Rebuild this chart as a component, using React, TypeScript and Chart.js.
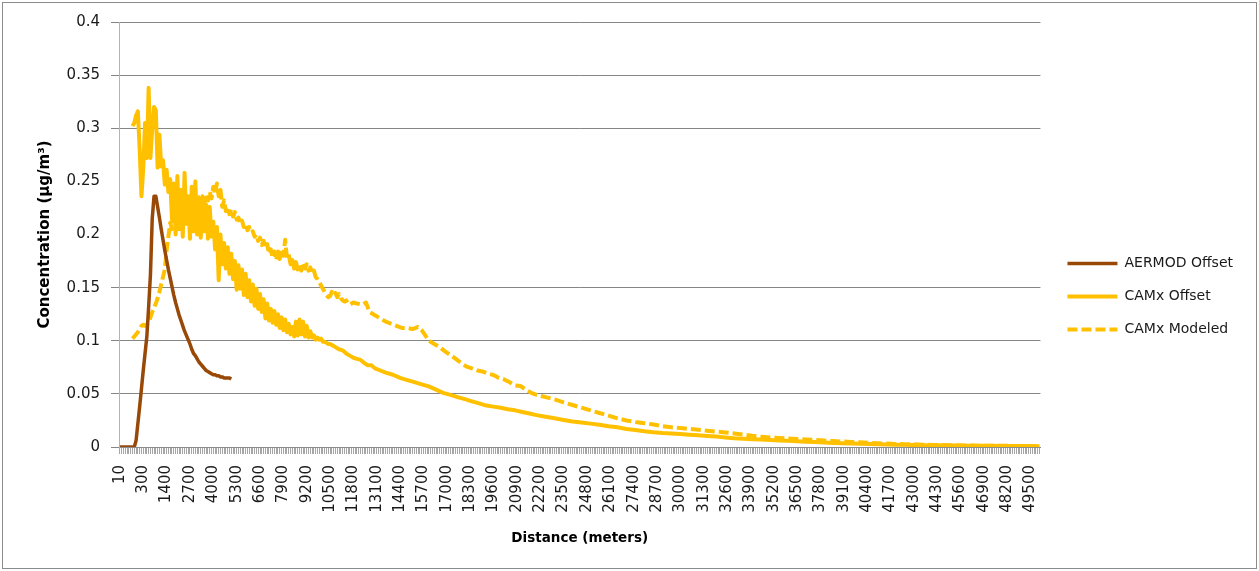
import React, { useEffect, useRef } from 'react';
import { Chart, registerables } from 'chart.js';

Chart.register(...registerables);

// Receptor distances (m): fine spacing close to the source, then every 100 m out to 50 km.
const NEAR_DISTANCES = [10, 20, 30, 40, 50, 60, 70, 80, 90, 100, 150, 200, 250, 300, 350, 400, 450, 500];
const DISTANCES: number[] = [...NEAR_DISTANCES];
for (let d = 600; d <= 50000; d += 100) DISTANCES.push(d);

// Distances that carry a printed label on the category axis.
const TICK_LABELS = [
  10, 300, 1400, 2700, 4000, 5300, 6600, 7900, 9200, 10500, 11800, 13100, 14400, 15700,
  17000, 18300, 19600, 20900, 22200, 23500, 24800, 26100, 27400, 28700, 30000, 31300,
  32600, 33900, 35200, 36500, 37800, 39100, 40400, 41700, 43000, 44300, 45600, 46900,
  48200, 49500,
];

// AERMOD offset, one value per receptor starting at 10 m (runs out to 5 km).
const AERMOD_START = 10;
const AERMOD_OFFSET = [
  0, 0, 0, 0, 0, 0, 0, 0, 0, 0.006, 0.022, 0.038, 0.055, 0.072, 0.088, 0.104, 0.132, 0.162,
  0.215, 0.236, 0.236, 0.226, 0.216, 0.205, 0.195, 0.185, 0.176, 0.167, 0.159, 0.151, 0.143,
  0.136, 0.130, 0.124, 0.119, 0.114, 0.109, 0.105, 0.101, 0.097, 0.092, 0.088, 0.086, 0.083,
  0.080, 0.078, 0.076, 0.074, 0.072, 0.071, 0.070, 0.069, 0.068, 0.068, 0.067, 0.067, 0.066,
  0.066, 0.065, 0.065, 0.065, 0.065, 0.064,
];

// CAMx offset near field, one value per receptor from 80 m to 11 km.
const CAMX_OFFSET_START = 80;
const CAMX_OFFSET_NEAR = [
  0.302, 0.305, 0.312, 0.316, 0.280, 0.236, 0.262, 0.305, 0.272, 0.338, 0.272, 0.300, 0.320,
  0.317, 0.263, 0.294, 0.264, 0.270, 0.247, 0.261, 0.240, 0.252,
  0.214, 0.248, 0.200, 0.255, 0.205, 0.242, 0.198, 0.258, 0.210, 0.236, 0.196, 0.245, 0.203,
  0.250, 0.200, 0.232, 0.197, 0.236, 0.203, 0.228, 0.196, 0.226, 0.198, 0.212, 0.186, 0.207,
  0.157, 0.200, 0.172, 0.192, 0.168, 0.188, 0.163, 0.182, 0.158, 0.175, 0.148, 0.171, 0.149,
  0.167, 0.143, 0.163, 0.141, 0.157, 0.137, 0.153, 0.133, 0.149, 0.130, 0.144, 0.127, 0.139,
  0.121, 0.135, 0.119, 0.130, 0.117, 0.128, 0.115, 0.125, 0.112, 0.122, 0.110, 0.120, 0.108,
  0.116, 0.106, 0.113, 0.104, 0.118, 0.105, 0.120, 0.106, 0.118, 0.104, 0.114, 0.103, 0.109,
  0.103, 0.105, 0.101, 0.103, 0.101, 0.102, 0.099, 0.099, 0.098, 0.097, 0.097, 0.096, 0.095,
  0.094, 0.093, 0.092,
];
// CAMx offset far field, sampled receptors.
const CAMX_OFFSET_FAR_DIST = [
  11200, 11400, 11600, 11800, 12000, 12200, 12400, 12600, 12800, 13000, 13300, 13600,
  14000, 14400, 14800, 15200, 15600, 16000, 16400, 16800, 17200, 17600, 18000, 18400,
  18800, 19200, 19600, 20000, 20400, 20800, 21200, 21600, 22000,
  22500, 23000, 23500, 24000, 24500, 25000, 25500, 26000, 26500, 27000, 27500, 28000,
  28500, 29000, 29500, 30000, 30500, 31000, 31500, 32000, 32500, 33000, 33500, 34000,
  34500, 35000, 35500, 36000, 36500, 37000, 37500, 38000, 38500, 39000, 39500, 40000,
  40500, 41000, 41500, 42000, 42500, 43000, 43500, 44000,
  45000, 46000, 47000, 48000, 49000, 50000,
];
const CAMX_OFFSET_FAR = [
  0.091, 0.088, 0.086, 0.084, 0.083, 0.082, 0.079, 0.077, 0.077, 0.074, 0.072, 0.070,
  0.068, 0.065, 0.063, 0.061, 0.059, 0.057, 0.054, 0.051, 0.049, 0.047, 0.045, 0.043,
  0.041, 0.039, 0.038, 0.037, 0.0355, 0.0345, 0.033, 0.0315, 0.030,
  0.0285, 0.027, 0.0255, 0.024, 0.023, 0.022, 0.021, 0.0195, 0.0185, 0.017, 0.016, 0.0148,
  0.0138, 0.0132, 0.0128, 0.0122, 0.0116, 0.011, 0.0104, 0.0098, 0.009, 0.0083, 0.0078, 0.0074,
  0.007, 0.0066, 0.0062, 0.0058, 0.0054, 0.005, 0.0046, 0.0042, 0.0038, 0.0035, 0.0032, 0.003,
  0.0028, 0.0025, 0.0023, 0.0021, 0.002, 0.0018, 0.0017, 0.0016,
  0.0014, 0.0012, 0.0011, 0.001, 0.0009, 0.0008,
];

// CAMx modeled near field, one value per receptor from 80 m to 11.8 km.
const CAMX_MODELED_START = 80;
const CAMX_MODELED_NEAR = [
  0.102, 0.104, 0.106, 0.108, 0.111, 0.114, 0.115, 0.114, 0.115, 0.117, 0.122, 0.127, 0.131,
  0.135, 0.140, 0.146, 0.153, 0.160, 0.167, 0.185, 0.198, 0.211,
  0.205, 0.216, 0.210, 0.222, 0.214, 0.226, 0.218, 0.229, 0.221, 0.232, 0.224, 0.230, 0.225,
  0.233, 0.226, 0.235, 0.228, 0.236, 0.230, 0.238, 0.232, 0.240, 0.234, 0.245, 0.238, 0.248,
  0.236, 0.242, 0.226, 0.232, 0.222, 0.226, 0.219, 0.224, 0.217, 0.221, 0.214, 0.216, 0.210,
  0.213, 0.207, 0.210, 0.204, 0.207, 0.202, 0.203, 0.198, 0.200, 0.194, 0.197, 0.190, 0.194,
  0.187, 0.191, 0.182, 0.186, 0.178, 0.184, 0.176, 0.184, 0.177, 0.186, 0.180, 0.195, 0.178,
  0.181, 0.172, 0.176, 0.168, 0.174, 0.167, 0.171, 0.166, 0.173, 0.168, 0.172, 0.166, 0.169,
  0.164, 0.166, 0.160, 0.158, 0.155, 0.152, 0.149, 0.146, 0.143, 0.141, 0.142, 0.146, 0.143,
  0.145, 0.141, 0.144, 0.140, 0.138, 0.137, 0.138, 0.135, 0.134, 0.135, 0.136,
];
// CAMx modeled far field, sampled receptors.
const CAMX_MODELED_FAR_DIST = [
  12000, 12300, 12500, 12700, 13000, 13300, 13600, 13900, 14200, 14500, 14800, 15100,
  15400, 15600, 15800, 16000, 16300, 16600, 16900, 17200, 17500, 17800, 18100, 18400,
  18700, 19000, 19300, 19600, 19900, 20200, 20500, 20800, 21100, 21400, 21700, 22000,
  22500, 23000, 23500, 24000, 24500, 25000, 25500, 26000, 26500, 27000, 27500, 28000,
  28500, 29000, 29500, 30000, 30500, 31000, 31500, 32000, 32500, 33000, 33500, 34000,
  34500, 35000, 35500, 36000, 36500, 37000, 37500, 38000, 38500, 39000, 39500, 40000,
  40500, 41000, 41500, 42000, 42500, 43000, 43500, 44000,
  45000, 46000, 47000, 48000, 49000, 50000,
];
const CAMX_MODELED_FAR = [
  0.135, 0.134, 0.136, 0.127, 0.124, 0.121, 0.118, 0.116, 0.114, 0.112, 0.112, 0.111,
  0.113, 0.110, 0.105, 0.100, 0.097, 0.094, 0.090, 0.0866, 0.083, 0.079, 0.0756, 0.074,
  0.072, 0.071, 0.069, 0.0678, 0.065, 0.0635, 0.061, 0.058, 0.0574, 0.054, 0.051, 0.049,
  0.047, 0.0448, 0.042, 0.0395, 0.037, 0.0345, 0.032, 0.0295, 0.027, 0.025, 0.0236, 0.0224,
  0.0212, 0.0197, 0.0186, 0.0178, 0.017, 0.0162, 0.0153, 0.0145, 0.0137, 0.0128, 0.0117, 0.0105,
  0.0097, 0.009, 0.0085, 0.008, 0.0076, 0.0071, 0.0066, 0.0061, 0.0056, 0.0052, 0.0048, 0.0044,
  0.004, 0.0036, 0.0032, 0.0029, 0.0027, 0.0025, 0.0022, 0.002,
  0.0017, 0.0014, 0.0012, 0.0011, 0.001, 0.0009,
];

const FONT = "'DejaVu Sans', sans-serif";
const BROWN = '#984807';
const GOLD = '#FFC000';
const GRID = '#868686';
const DASH = [10, 4];

const tickSet = new Set(TICK_LABELS);

// Consecutive receptors starting at a given distance.
function run(start: number, values: number[]) {
  const first = DISTANCES.indexOf(start);
  return values.map((y, k) => ({ x: DISTANCES[first + k], y }));
}
// Individually listed receptors.
function pairs(dists: number[], values: number[]) {
  return dists.map((x, k) => ({ x, y: values[k] }));
}

// Grid lines at 0.2 and 0.25 are not drawn on this chart.
const yGridColor = (ctx: any) => {
  const v = ctx.tick ? Math.round(ctx.tick.value * 100) : -1;
  return v === 20 || v === 25 ? 'rgba(0,0,0,0)' : GRID;
};

export default function App() {
  const canvasRef = useRef<HTMLCanvasElement>(null);

  useEffect(() => {
    const canvas = canvasRef.current;
    if (!canvas) return;
    const chart = new Chart(canvas, {
      type: 'line',
      data: {
        labels: DISTANCES,
        datasets: [
          {
            label: 'AERMOD Offset',
            data: run(AERMOD_START, AERMOD_OFFSET),
            borderColor: BROWN,
            backgroundColor: BROWN,
            borderWidth: 3.5,
            pointRadius: 0,
            borderJoinStyle: 'round',
            yAxisID: 'y',
          },
          {
            label: 'CAMx Offset',
            data: [...run(CAMX_OFFSET_START, CAMX_OFFSET_NEAR), ...pairs(CAMX_OFFSET_FAR_DIST, CAMX_OFFSET_FAR)],
            borderColor: GOLD,
            backgroundColor: GOLD,
            borderWidth: 4,
            pointRadius: 0,
            borderJoinStyle: 'round',
            yAxisID: 'y',
          },
          {
            label: 'CAMx Modeled',
            data: [...run(CAMX_MODELED_START, CAMX_MODELED_NEAR), ...pairs(CAMX_MODELED_FAR_DIST, CAMX_MODELED_FAR)],
            borderColor: GOLD,
            backgroundColor: GOLD,
            borderWidth: 4,
            borderDash: DASH,
            pointRadius: 0,
            borderJoinStyle: 'round',
            yAxisID: 'y',
          },
        ],
      },
      options: {
        responsive: false,
        animation: false,
        devicePixelRatio: 1,
        events: [],
        layout: { padding: { top: 22, right: 16, bottom: 0, left: 0 } },
        plugins: {
          tooltip: { enabled: false },
          legend: {
            position: 'right',
            labels: {
              usePointStyle: true,
              pointStyle: 'line',
              pointStyleWidth: 50,
              padding: 19,
              color: '#1a1a1a',
              font: { family: FONT, size: 14 },
              // Legend keys use the series' own line width and dash pattern.
              generateLabels: (c: any) => {
                const items = (Chart.defaults as any).plugins.legend.labels.generateLabels(c);
                return items.map((item: any) => {
                  const ds: any = c.data.datasets[item.datasetIndex];
                  return {
                    ...item,
                    strokeStyle: ds.borderColor,
                    lineWidth: ds.borderWidth,
                    lineDash: ds.borderDash || [],
                    lineCap: 'butt',
                  };
                });
              },
            },
          },
        },
        scales: {
          x: {
            type: 'category',
            offset: true,
            grid: {
              display: true,
              drawOnChartArea: false,
              drawTicks: true,
              tickLength: 7,
              color: '#a6a6a6',
              lineWidth: 1,
            },
            border: { display: true, color: '#8c8c8c', width: 1 },
            ticks: {
              autoSkip: false,
              maxRotation: 90,
              minRotation: 90,
              padding: 11,
              color: '#1a1a1a',
              font: { family: FONT, size: 15 },
              callback: (_v: any, i: number) => (tickSet.has(DISTANCES[i]) ? String(DISTANCES[i]) : ''),
            },
            title: {
              display: true,
              text: 'Distance (meters)',
              color: '#000',
              font: { family: FONT, size: 13.5, weight: 'bold' },
              padding: { top: 0, bottom: 24 },
            },
            afterFit: (s: any) => {
              s.height = 124;
            },
          },
          y: {
            type: 'linear',
            min: 0,
            max: 0.4,
            ticks: {
              stepSize: 0.05,
              padding: 11,
              color: '#1a1a1a',
              font: { family: FONT, size: 15 },
              callback: (v: any) => String(Math.round(Number(v) * 100) / 100),
            },
            grid: { color: yGridColor, tickColor: yGridColor, tickLength: 8, drawTicks: true },
            border: { display: true, color: '#b4b4b4' },
            title: {
              display: true,
              text: 'Concentration (µg/m³)',
              color: '#000',
              font: { family: FONT, size: 15, weight: 'bold' },
              padding: { top: 36, bottom: 0 },
            },
            afterFit: (s: any) => {
              s.width = 119;
            },
          },
          // Empty strip that keeps the legend clear of the plot area.
          gap: {
            type: 'linear',
            position: 'right',
            display: true,
            grid: { display: false, drawTicks: false },
            ticks: { display: false },
            border: { display: false },
            afterFit: (s: any) => {
              s.width = 8;
            },
          },
        },
      } as any,
    });
    return () => chart.destroy();
  }, []);

  return (
    <div style={{ position: 'fixed', left: 0, top: 0, width: 1259, height: 571, background: '#fff' }}>
      <div
        style={{
          position: 'absolute',
          left: 2,
          top: 2,
          width: 1255,
          height: 567,
          border: '1px solid #8c8c8c',
          boxSizing: 'border-box',
        }}
      />
      <canvas ref={canvasRef} width={1259} height={571} style={{ position: 'absolute', left: 0, top: 0 }} />
    </div>
  );
}
